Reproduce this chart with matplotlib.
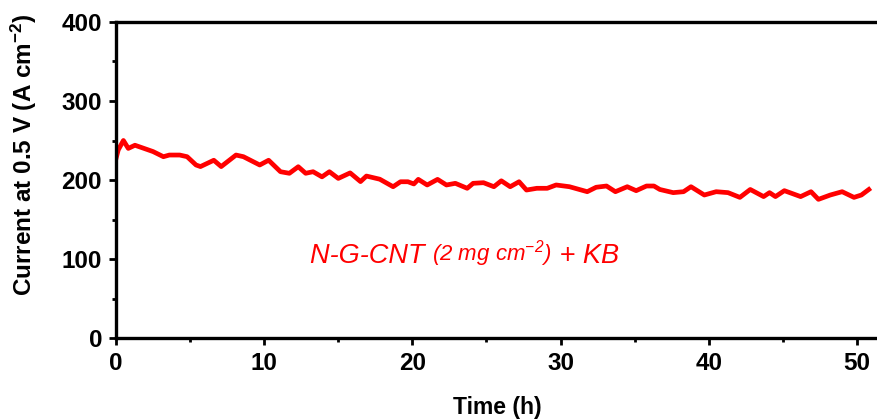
import numpy as np
import matplotlib
matplotlib.use('Agg')
import matplotlib.pyplot as plt
from matplotlib.ticker import MultipleLocator

plt.rcParams['font.family'] = ['Liberation Sans', 'DejaVu Sans']
plt.rcParams['mathtext.default'] = 'regular'

# 读图得到的数据 (时间 h, 电流)
time_h = [0.0, 0.15, 0.5, 0.83, 1.28, 2.5, 3.2, 3.6, 4.3, 4.8, 5.4, 5.7, 6.6, 7.1,
          8.1, 8.6, 9.7, 10.3, 11.1, 11.7, 12.3, 12.8, 13.3, 13.9, 14.4, 15.0,
          15.8, 16.5, 16.9, 17.8, 18.7, 19.2, 19.7, 20.1, 20.4, 21.0, 21.7, 22.3,
          22.9, 23.7, 24.1, 24.8, 25.5, 26.0, 26.6, 27.2, 27.7, 28.4, 29.1, 29.7,
          30.6, 31.8, 32.4, 33.1, 33.7, 34.5, 35.1, 35.8, 36.3, 36.7, 37.6, 38.3,
          38.8, 39.7, 40.5, 41.3, 42.1, 42.8, 43.7, 44.1, 44.5, 45.1, 46.2, 46.9,
          47.4, 48.2, 49.0, 49.8, 50.3, 50.8]
current = [227, 238, 250, 240, 244, 236, 229.5, 231.6, 231.6, 229.5, 219, 217, 225, 217,
           231.6, 229.5, 219, 225, 210.5, 208.5, 216.8, 208.5, 210.5, 204, 210.5, 202,
           209, 198, 205, 201, 191.5, 197.8, 197.8, 195, 200.8, 193.7, 200.8, 193.7,
           195.8, 189.5, 195.8, 196.6, 191.5, 199, 191.5, 197.8, 187.3, 189.5, 189.5, 193.7,
           191.5, 185.2, 190.8, 192.4, 185.2, 191.5, 186.5, 192.4, 192.4, 188, 184, 185.2,
           191.5, 181, 185.2, 184, 178, 188, 179, 184, 179, 186.5, 179, 185.2,
           175.5, 181, 185.2, 178, 181, 188]

fig = plt.figure(figsize=(8.78, 4.19), dpi=100)
ax = fig.add_axes([0.1321, 0.1933, 1.0 - 0.1321, 0.9475 - 0.1933])

ax.plot(time_h, current, color='red', lw=3.4)

ax.set_xlim(0, 51.42)
ax.set_ylim(0, 400)
ax.xaxis.set_major_locator(MultipleLocator(10))
ax.xaxis.set_minor_locator(MultipleLocator(5))
ax.yaxis.set_major_locator(MultipleLocator(100))
ax.yaxis.set_minor_locator(MultipleLocator(50))

for s in ['left', 'bottom', 'top']:
    ax.spines[s].set_linewidth(2.4)
ax.spines['right'].set_visible(False)
ax.tick_params(which='major', direction='out', length=5, width=2, labelsize=17.5, pad=5)
ax.tick_params(which='minor', direction='out', length=3, width=2)
ax.tick_params(top=False, right=False, which='both')
for lab in ax.get_xticklabels() + ax.get_yticklabels():
    lab.set_fontweight('bold')

ax.set_xlabel('Time (h)', fontsize=16.5, fontweight='bold', labelpad=15)
ax.set_ylabel('Current at 0.5 V (A cm$^{-2}$)', fontsize=17.5, fontweight='bold')
ax.yaxis.set_label_coords(-0.1005, 0.58)

# 标注文字
t1 = ax.text(13.1, 95, 'N-G-CNT ', color='red', fontsize=19.5, style='italic')
t2 = ax.annotate('(2 mg cm$^{-2}$)', xy=(1, 0), xycoords=t1, va='bottom', color='red',
                 fontsize=16, style='italic')
t3 = ax.annotate(' + KB', xy=(1, 0), xycoords=t2, va='bottom', color='red',
                 fontsize=19.5, style='italic')

fig.savefig('out.png', dpi=100)
